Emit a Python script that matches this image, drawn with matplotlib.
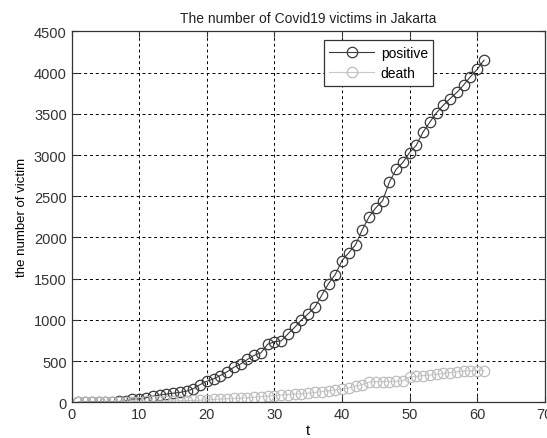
import numpy as np
import matplotlib
matplotlib.use("Agg")
import matplotlib.pyplot as plt

plt.rcParams['font.family'] = ['Liberation Sans', 'DejaVu Sans']

t = np.arange(1, 62)

positive = [1, 3, 4, 5, 6, 7, 10, 15, 40, 40,
            55, 75, 88, 100, 110, 120, 135, 165, 215, 255,
            285, 325, 370, 425, 465, 520, 570, 600, 705, 735,
            745, 830, 910, 1000, 1075, 1155, 1300, 1440, 1550, 1720,
            1815, 1910, 2095, 2250, 2360, 2445, 2670, 2825, 2910, 3030,
            3120, 3280, 3400, 3515, 3605, 3685, 3760, 3850, 3950, 4040,
            4150]

death = [0, 0, 0, 1, 2, 3, 5, 5, 6, 8,
         10, 12, 14, 15, 16, 18, 20, 22, 25, 30,
         35, 40, 43, 47, 50, 55, 62, 68, 75, 82,
         88, 94, 100, 105, 110, 120, 130, 140, 150, 160,
         175, 195, 215, 245, 250, 252, 252, 255, 260, 305,
         315, 325, 330, 340, 350, 360, 370, 380, 383, 385,
         385]

fig = plt.figure(figsize=(5.47, 4.39), dpi=100)
ax = fig.add_axes([0.131, 0.0813, 0.865, 0.845])

ax.plot(t, positive, '-o', color='#3a3a3a', mfc='none', mec='#3a3a3a',
        ms=7.5, mew=0.9, lw=0.8, label='positive')
ax.plot(t, death, '-o', color='#c8c8c8', mfc='none', mec='#bdbdbd',
        ms=7.5, mew=0.9, lw=0.8, label='death')

ax.set_xlim(0, 70)
ax.set_ylim(0, 4500)
ax.set_xticks(range(0, 71, 10))
ax.set_yticks(range(0, 4501, 500))
ax.grid(True, color='black', linestyle=(0, (3, 3)), linewidth=0.7)
ax.tick_params(direction='in', labelsize=10.5, length=4, colors='#333333',
               top=True, right=True)
for s in ax.spines.values():
    s.set_color('#333333')
    s.set_linewidth(0.9)

ax.set_title('The number of Covid19 victims in Jakarta', fontsize=10,
             color='#222222', pad=7)
ax.set_xlabel('t', fontsize=10.5, labelpad=1)
ax.set_ylabel('the number of victim', fontsize=9.5, labelpad=4)

leg = ax.legend(loc='upper left', bbox_to_anchor=(0.533, 0.976), fontsize=10,
                fancybox=False, edgecolor='#333333', framealpha=1,
                borderpad=0.4, handlelength=3.2, handletextpad=0.5,
                labelspacing=0.45, borderaxespad=0)
leg.get_frame().set_linewidth(0.9)

fig.savefig('out.png', dpi=100)
